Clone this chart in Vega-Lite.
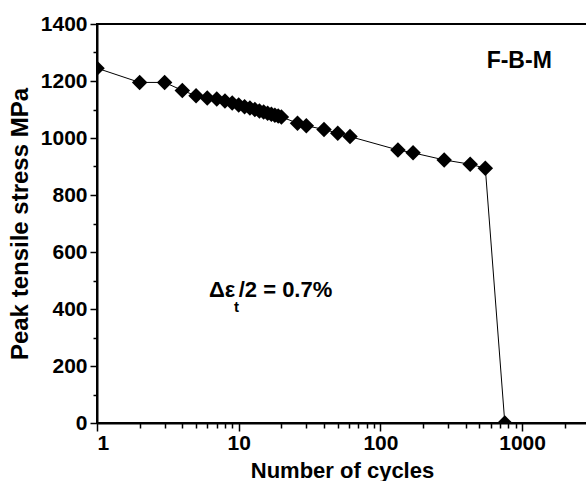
{
  "$schema": "https://vega.github.io/schema/vega-lite/v6.json",
  "autosize": "none",
  "width": 490,
  "height": 399,
  "padding": {"left": 97, "top": 24, "right": 0, "bottom": 58},
  "background": "white",
  "config": {
    "view": {"stroke": "black", "strokeWidth": 2},
    "font": "Liberation Sans",
    "axis": {
      "labelFont": "Liberation Sans", "labelFontWeight": "bold", "labelFontSize": 21, "labelColor": "black",
      "titleFont": "Liberation Sans", "titleFontWeight": "bold", "titleFontSize": 22, "titleColor": "black",
      "domainColor": "black", "domainWidth": 2, "tickColor": "black", "tickWidth": 1.5, "grid": false
    }
  },
  "data": {"values": [
    {"N": 1, "s": 1245}, {"N": 2, "s": 1195}, {"N": 3, "s": 1195}, {"N": 4, "s": 1167},
    {"N": 5, "s": 1148}, {"N": 6, "s": 1140}, {"N": 7, "s": 1137}, {"N": 8, "s": 1130},
    {"N": 9, "s": 1123}, {"N": 10, "s": 1116}, {"N": 11, "s": 1110}, {"N": 12, "s": 1105},
    {"N": 13, "s": 1100}, {"N": 14, "s": 1095}, {"N": 15, "s": 1091}, {"N": 16, "s": 1087},
    {"N": 17, "s": 1083}, {"N": 18, "s": 1080}, {"N": 19, "s": 1077}, {"N": 20, "s": 1074},
    {"N": 26, "s": 1052}, {"N": 30, "s": 1043}, {"N": 40, "s": 1030}, {"N": 50, "s": 1017},
    {"N": 61, "s": 1005}, {"N": 133, "s": 958}, {"N": 170, "s": 948}, {"N": 282, "s": 923},
    {"N": 430, "s": 908}, {"N": 550, "s": 894}, {"N": 755, "s": 0}
  ]},
  "layer": [
    {
      "mark": {"type": "line", "color": "black", "strokeWidth": 1, "clip": true},
      "encoding": {
        "x": {"field": "N", "type": "quantitative",
          "scale": {"type": "log", "domain": [1, 2870], "nice": false},
          "axis": {"title": "Number of cycles", "values": [1, 10, 100, 1000], "format": "d",
            "tickSize": 8, "labelPadding": 1, "titlePadding": 7, "domain": true}},
        "y": {"field": "s", "type": "quantitative",
          "scale": {"domain": [0, 1400], "nice": false, "zero": true},
          "axis": {"title": "Peak tensile stress MPa", "titleFontSize": 24, "values": [0, 200, 400, 600, 800, 1000, 1200, 1400],
            "format": "d", "tickSize": 7, "labelPadding": 3, "titlePadding": 8}}
      }
    },
    {
      "mark": {"type": "point", "shape": "diamond", "filled": true, "color": "black", "size": 240, "opacity": 1, "clip": true},
      "encoding": {
        "x": {"field": "N", "type": "quantitative",
          "axis": {"orient": "bottom", "title": null, "labels": false, "domain": false, "tickSize": 5,
            "values": [2, 3, 4, 5, 6, 7, 8, 9, 20, 30, 40, 50, 60, 70, 80, 90, 200, 300, 400, 500, 600, 700, 800, 900, 2000]}},
        "y": {"field": "s", "type": "quantitative",
          "axis": {"orient": "left", "title": null, "labels": false, "domain": false, "tickSize": 4,
            "values": [100, 300, 500, 700, 900, 1100, 1300]}}
      }
    },
    {
      "data": {"values": [{"N": 562, "s": 1246, "t": "F-B-M"}]},
      "mark": {"type": "text", "align": "left", "baseline": "alphabetic", "font": "Liberation Sans", "fontWeight": "bold", "fontSize": 23, "color": "black"},
      "encoding": {"x": {"field": "N", "type": "quantitative", "axis": null}, "y": {"field": "s", "type": "quantitative", "axis": null}, "text": {"field": "t"}}
    },
    {
      "data": {"values": [{"N": 6.17, "s": 443, "t": "Δε"}, {"N": 10.0, "s": 443, "t": "/2 = 0.7%"}]},
      "mark": {"type": "text", "align": "left", "baseline": "alphabetic", "font": "Liberation Sans", "fontWeight": "bold", "fontSize": 22, "color": "black"},
      "encoding": {"x": {"field": "N", "type": "quantitative", "axis": null}, "y": {"field": "s", "type": "quantitative", "axis": null}, "text": {"field": "t"}}
    },
    {
      "data": {"values": [{"N": 9.25, "s": 390, "t": "t"}]},
      "mark": {"type": "text", "align": "left", "baseline": "alphabetic", "font": "Liberation Sans", "fontWeight": "bold", "fontSize": 15, "color": "black"},
      "encoding": {"x": {"field": "N", "type": "quantitative", "axis": null}, "y": {"field": "s", "type": "quantitative", "axis": null}, "text": {"field": "t"}}
    }
  ],
  "resolve": {"axis": {"x": "independent", "y": "independent"}}
}
